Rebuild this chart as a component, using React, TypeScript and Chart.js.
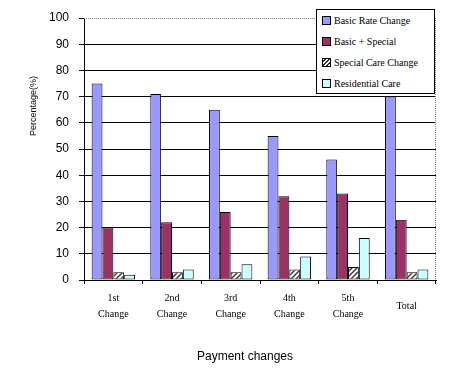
import React, { useEffect, useRef } from "react";
import { Chart, registerables } from "chart.js";

Chart.register(...registerables);

const categories: (string | string[])[] = [
  ["1st", "Change"],
  ["2nd", "Change"],
  ["3rd", "Change"],
  ["4th", "Change"],
  ["5th", "Change"],
  "Total",
];
const basicRate = [75, 71, 65, 55, 46, 70];
const basicSpecial = [20, 22, 26, 32, 33, 23];
const specialCare = [3, 3, 3, 4, 5, 3];
const residential = [2, 4, 6, 9, 16, 4];
const yTicks = [0, 10, 20, 30, 40, 50, 60, 70, 80, 90, 100];
const seriesNames = ["Basic Rate Change", "Basic + Special", "Special Care Change", "Residential Care"];
const xTitle = "Payment changes";
const yTitle = "Percentage(%)";

const BLUE = "#9999FF";
const PLUM = "#993366";
const CYAN = "#CCFFFF";

function makeHatch(): CanvasPattern | string {
  const c = document.createElement("canvas");
  c.width = 5;
  c.height = 5;
  const g = c.getContext("2d");
  if (!g) return "#888";
  g.fillStyle = "#ffffff";
  g.fillRect(0, 0, 5, 5);
  g.strokeStyle = "#333333";
  g.lineWidth = 1.4;
  g.beginPath();
  g.moveTo(-1, 6);
  g.lineTo(6, -1);
  g.moveTo(-1, 1);
  g.lineTo(1, -1);
  g.moveTo(4, 6);
  g.lineTo(6, 4);
  g.stroke();
  const p = g.createPattern(c, "repeat");
  return p || "#888";
}

export default function App() {
  const ref = useRef<HTMLCanvasElement | null>(null);

  useEffect(() => {
    if (!ref.current) return;
    const hatch = makeHatch();
    const extras = {
      id: "extras",
      afterDraw(chart: any) {
        const { ctx, chartArea } = chart;
        ctx.save();
        ctx.strokeStyle = "#808080";
        ctx.lineWidth = 1;
        ctx.setLineDash([1, 1]);
        ctx.beginPath();
        ctx.moveTo(chartArea.left, chartArea.top + 0.5);
        ctx.lineTo(chartArea.right, chartArea.top + 0.5);
        ctx.moveTo(chartArea.right - 0.5, chartArea.top);
        ctx.lineTo(chartArea.right - 0.5, chartArea.bottom);
        ctx.stroke();
        ctx.setLineDash([]);
        ctx.fillStyle = "#000";
        ctx.font = "12px 'Liberation Sans', Arial, sans-serif";
        ctx.textAlign = "center";
        ctx.textBaseline = "middle";
        ctx.fillText(xTitle, 245, 357);
        ctx.translate(34, 106);
        ctx.rotate(-Math.PI / 2);
        ctx.font = "9px 'Liberation Sans', Arial, sans-serif";
        ctx.fillText(yTitle, 0, 0);
        ctx.restore();
      },
    };
    const common = { borderColor: "#000", borderWidth: 1, borderSkipped: false };
    const chart = new Chart(ref.current, {
      type: "bar",
      data: {
        labels: categories,
        datasets: [
          { label: seriesNames[0], data: basicRate, backgroundColor: BLUE, ...common },
          { label: seriesNames[1], data: basicSpecial, backgroundColor: PLUM, ...common },
          { label: seriesNames[2], data: specialCare, backgroundColor: hatch as any, ...common },
          { label: seriesNames[3], data: residential, backgroundColor: CYAN, ...common },
        ],
      },
      options: {
        animation: false,
        responsive: false,
        devicePixelRatio: 1,
        layout: { padding: { left: 0, right: 30, top: 18, bottom: 0 } },
        datasets: { bar: { categoryPercentage: 0.74, barPercentage: 1 } },
        plugins: { legend: { display: false }, tooltip: { enabled: false }, title: { display: false } },
        scales: {
          x: {
            afterFit: (s: any) => {
              s.height = 103;
            },
            grid: {
              offset: true,
              drawOnChartArea: false,
              drawTicks: true,
              tickLength: 4,
              tickColor: "#000",
            },
            border: { color: "#000", width: 1 },
            ticks: {
              color: "#000",
              padding: 14,
              crossAlign: "center",
              maxRotation: 0,
              autoSkip: false,
              font: { family: "'Liberation Serif', 'Times New Roman', serif", size: 10, lineHeight: 1.6 },
            },
          },
          y: {
            min: 0,
            max: 100,
            afterFit: (s: any) => {
              s.width = 84;
            },
            afterBuildTicks: (s: any) => {
              s.ticks = yTicks.map((v) => ({ value: v }));
            },
            grid: {
              color: (c: any) => (c.tick && c.tick.value === 100 ? "rgba(0,0,0,0)" : "#000"),
              tickColor: "#000",
              tickLength: 5,
            },
            border: { color: "#000", width: 1 },
            ticks: {
              color: "#000",
              padding: 10,
              font: { family: "'Liberation Sans', Arial, sans-serif", size: 12 },
            },
          },
        },
      },
      plugins: [extras],
    } as any);
    return () => chart.destroy();
  }, []);

  const sw = (bg: string) => ({
    display: "inline-block",
    width: 7,
    height: 7,
    border: "1px solid #000",
    background: bg,
    marginRight: 3,
    verticalAlign: "middle",
  });
  const hatchCss = "repeating-linear-gradient(-45deg, #fff 0px, #fff 1.5px, #333 1.5px, #333 3px)";
  const swatches = [BLUE, PLUM, hatchCss, CYAN];

  return (
    <div style={{ position: "absolute", left: 0, top: 0, width: 466, height: 383, background: "#fff" }}>
      <canvas ref={ref} width={466} height={383} style={{ display: "block" }} />
      <div
        style={{
          position: "absolute",
          left: 316,
          top: 9,
          width: 119,
          height: 85,
          border: "1px solid #000",
          background: "#fff",
          boxSizing: "border-box",
          fontFamily: "'Liberation Serif', 'Times New Roman', serif",
          fontSize: 10,
          color: "#000",
        }}
      >
        {seriesNames.map((n, i) => (
          <div
            key={n}
            style={{ position: "absolute", left: 5, top: 3 + i * 21, height: 14, lineHeight: "14px", whiteSpace: "nowrap" }}
          >
            <span style={sw(swatches[i])} />
            <span style={{ verticalAlign: "middle" }}>{n}</span>
          </div>
        ))}
      </div>
    </div>
  );
}
